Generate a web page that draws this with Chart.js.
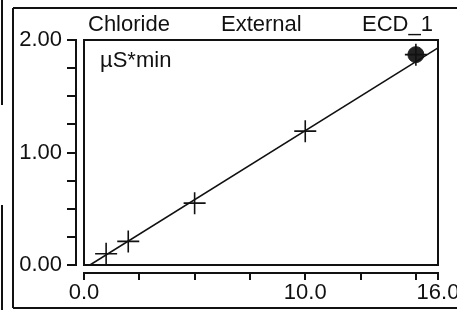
<!DOCTYPE html>
<html><head><meta charset="utf-8">
<script src="https://cdn.jsdelivr.net/npm/chart.js@4/dist/chart.umd.min.js"></script>
<style>
html,body{margin:0;padding:0;background:#fff;}
#wrap{position:relative;width:457px;height:310px;overflow:hidden;background:#fff;}
#c{position:absolute;left:0;top:0;}
.t{position:absolute;font-family:"Liberation Sans",Arial,sans-serif;font-size:22px;line-height:22px;color:#111;white-space:nowrap;}
</style></head><body>
<div id="wrap">
<canvas id="c" width="457" height="310"></canvas>
<div class="t" style="left:88px;top:13px">Chloride</div>
<div class="t" style="left:221px;top:13px">External</div>
<div class="t" style="left:362px;top:13px">ECD_1</div>
<div class="t" style="left:100px;top:49px">µS*min</div>
</div>
<script>
// ---- data ----
const concentrations = [1, 2, 5, 10, 15];
const areas = [0.10, 0.21, 0.55, 1.19, 1.87];
const highlightedX = [15];
const highlightedY = [1.87];
const fitLineX = [0.27, 16];
const fitLineY = [0, 1.93];
const xTickValues = [0, 2.5, 5, 7.5, 10, 12.5, 15, 16];
const xTickLabels = ['0.0', '', '', '', '10.0', '', '', '16.0'];
const yTickValues = [0, 0.25, 0.5, 0.75, 1, 1.25, 1.5, 1.75, 2];
const yTickLabels = ['0.00', '', '', '', '1.00', '', '', '', '2.00'];

const pts = (xs, ys) => xs.map((v, i) => ({x: v, y: ys[i]}));
const FONT = {family: '"Liberation Sans", Arial, sans-serif', size: 22};
const INK = '#111';

const framePlugin = {
  id: 'framePlugin',
  afterDraw(chart) {
    const {ctx, chartArea: a, scales: {x, y}} = chart;
    ctx.save();
    ctx.strokeStyle = INK;
    ctx.lineWidth = 2;
    // plot border
    ctx.strokeRect(a.left, a.top, a.right - a.left, a.bottom - a.top);
    ctx.beginPath();
    // offset y axis
    const yx = a.left - 8;
    ctx.moveTo(yx, y.getPixelForValue(y.max));
    ctx.lineTo(yx, y.getPixelForValue(y.min));
    y.ticks.forEach(t => {
      const py = Math.round(y.getPixelForValue(t.value));
      ctx.moveTo(yx + 1, py); ctx.lineTo(yx - 9, py);
    });
    // offset x axis
    const xy = a.bottom + 8;
    ctx.moveTo(x.getPixelForValue(x.min), xy);
    ctx.lineTo(x.getPixelForValue(x.max), xy);
    x.ticks.forEach(t => {
      const px = Math.round(x.getPixelForValue(t.value));
      ctx.moveTo(px, xy - 1); ctx.lineTo(px, xy + 7);
    });
    // outer panel frame
    ctx.moveTo(13, 8); ctx.lineTo(457, 8);
    ctx.moveTo(13, 8); ctx.lineTo(13, 308);
    ctx.moveTo(13, 308); ctx.lineTo(457, 308);
    ctx.moveTo(2, 0); ctx.lineTo(2, 105);
    ctx.moveTo(2, 205); ctx.lineTo(2, 310);
    ctx.stroke();
    ctx.restore();
  }
};

new Chart(document.getElementById('c'), {
  type: 'scatter',
  data: {
    datasets: [
      {
        label: 'fit',
        data: pts(fitLineX, fitLineY),
        showLine: true,
        pointRadius: 0,
        borderColor: INK,
        borderWidth: 1.6,
        fill: false
      },
      {
        label: 'standards',
        data: pts(concentrations, areas),
        pointStyle: 'cross',
        pointRadius: 11,
        pointBorderWidth: 1.6,
        borderColor: INK,
        backgroundColor: INK
      },
      {
        label: 'current',
        data: pts(highlightedX, highlightedY),
        pointStyle: 'circle',
        pointRadius: 8,
        pointBorderWidth: 1,
        borderColor: '#222',
        backgroundColor: '#222'
      }
    ]
  },
  options: {
    responsive: false,
    animation: false,
    devicePixelRatio: 1,
    layout: {padding: {left: 0, right: 19, top: 40, bottom: 0}},
    plugins: {legend: {display: false}, tooltip: {enabled: false}, title: {display: false}},
    elements: {point: {hoverRadius: 0}},
    scales: {
      x: {
        type: 'linear', min: 0, max: 16,
        afterBuildTicks: s => { s.ticks = xTickValues.map(v => ({value: v})); },
        afterFit: s => { s.height = 45; s.paddingLeft = 0; s.paddingRight = 0; },
        grid: {display: false, drawTicks: false},
        border: {display: false},
        ticks: {autoSkip: false, maxRotation: 0, padding: 15, color: INK, font: FONT,
          callback: (v, i) => xTickLabels[i]}
      },
      y: {
        type: 'linear', min: 0, max: 2,
        afterBuildTicks: s => { s.ticks = yTickValues.map(v => ({value: v})); },
        afterFit: s => { s.width = 84; s.paddingTop = 0; s.paddingBottom = 0; },
        grid: {display: false, drawTicks: false},
        border: {display: false},
        ticks: {autoSkip: false, padding: 22, color: INK, font: FONT,
          callback: (v, i) => yTickLabels[i]}
      }
    }
  },
  plugins: [framePlugin]
});
</script>
</body></html>
